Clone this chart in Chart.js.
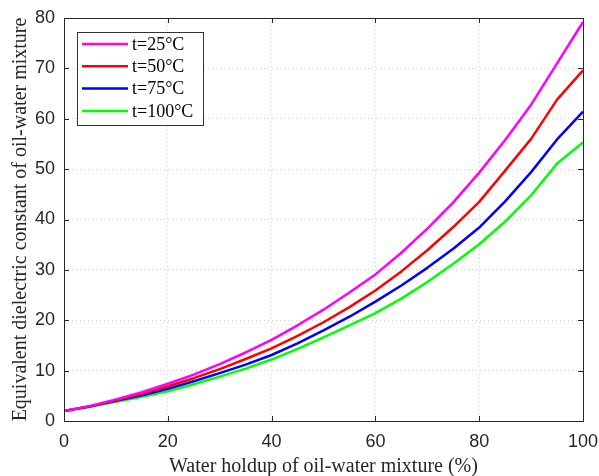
<!DOCTYPE html>
<html>
<head>
<meta charset="utf-8">
<script src="https://cdn.jsdelivr.net/npm/chart.js@4.4.1/dist/chart.umd.min.js"></script>
<style>
  body { margin: 0; background: #fff; }
  #wrap { width: 599px; height: 476px; }
</style>
</head>
<body>
<div id="wrap"><canvas id="line-chart" width="599" height="476"></canvas></div>
<script>
// water holdup (%) and dielectric constant per temperature
var holdup = [0, 5, 10, 15, 20, 25, 30, 35, 40, 45, 50, 55, 60, 65, 70, 75, 80, 85, 90, 95, 100];
var t25  = [2.0, 3.0, 4.3, 5.7, 7.4, 9.2, 11.3, 13.6, 16.1, 19.0, 22.1, 25.5, 29.1, 33.4, 38.2, 43.4, 49.3, 55.8, 62.8, 71.0, 79.2];
var t50  = [2.0, 2.9, 4.1, 5.4, 6.9, 8.5, 10.3, 12.3, 14.4, 16.9, 19.6, 22.6, 25.9, 29.7, 33.9, 38.5, 43.5, 49.7, 56.0, 63.8, 69.6];
var t75  = [2.0, 2.9, 4.0, 5.1, 6.4, 7.9, 9.5, 11.2, 13.1, 15.4, 18.0, 20.7, 23.7, 26.9, 30.4, 34.2, 38.4, 43.6, 49.4, 55.9, 61.4];
var t100 = [2.0, 2.8, 3.8, 4.8, 5.9, 7.3, 8.8, 10.4, 12.2, 14.3, 16.6, 19.0, 21.4, 24.3, 27.6, 31.2, 35.1, 39.6, 44.8, 51.1, 55.3];
var xTicks = [0, 20, 40, 60, 80, 100];

var labels = ['t=25°C', 't=50°C', 't=75°C', 't=100°C'];
var colors = ['#ff00ff', '#ff0000', '#0000ff', '#00ff00'];
var series = [t25, t50, t75, t100];

var serif = '"Liberation Serif", "Times New Roman", serif';
var sans = '"Liberation Sans", Arial, sans-serif';
var ink = '#262626';

function pts(ys) {
  return holdup.map(function(x, i) { return { x: x, y: ys[i] }; });
}

var datasets = series.map(function(s, i) {
  return {
    label: labels[i],
    data: pts(s),
    borderColor: colors[i],
    borderWidth: 2.5,
    borderJoinStyle: 'round',
    pointRadius: 0,
    fill: false,
    tension: 0
  };
});

// box round the plot, inward ticks, legend in the top-left corner
var frame = {
  id: 'frame',
  afterDraw: function(chart) {
    var ctx = chart.ctx, a = chart.chartArea;
    var xs = chart.scales.x, ys = chart.scales.y;
    ctx.save();
    ctx.strokeStyle = ink;
    ctx.lineWidth = 1;
    ctx.strokeRect(a.left + 0.5, a.top + 0.5, a.right - a.left, a.bottom - a.top);
    ctx.beginPath();
    xs.ticks.forEach(function(t) {
      var px = Math.round(xs.getPixelForValue(t.value)) + 0.5;
      ctx.moveTo(px, a.bottom); ctx.lineTo(px, a.bottom - 5);
      ctx.moveTo(px, a.top); ctx.lineTo(px, a.top + 5);
    });
    ys.ticks.forEach(function(t) {
      var py = Math.round(ys.getPixelForValue(t.value)) + 0.5;
      ctx.moveTo(a.left, py); ctx.lineTo(a.left + 5, py);
      ctx.moveTo(a.right, py); ctx.lineTo(a.right - 5, py);
    });
    ctx.stroke();

    var bx = a.left + 13, by = a.top + 14, bw = 126, bh = 93;
    ctx.fillStyle = '#fff';
    ctx.fillRect(bx, by, bw, bh);
    ctx.strokeStyle = '#333';
    ctx.strokeRect(bx + 0.5, by + 0.5, bw, bh);
    ctx.font = '18px ' + serif;
    ctx.textBaseline = 'middle';
    chart.data.datasets.forEach(function(d, i) {
      var ry = by + 12 + i * 22.3;
      ctx.strokeStyle = d.borderColor;
      ctx.lineWidth = 2.5;
      ctx.beginPath();
      ctx.moveTo(bx + 5, ry); ctx.lineTo(bx + 51, ry);
      ctx.stroke();
      ctx.fillStyle = '#000';
      ctx.fillText(d.label, bx + 55, ry + 1);
    });
    ctx.restore();
  }
};

new Chart(document.getElementById('line-chart'), {
  type: 'line',
  data: { datasets: datasets },
  options: {
    responsive: false,
    animation: false,
    layout: { padding: { top: 18, right: 16, left: 0, bottom: 0 } },
    plugins: { legend: { display: false }, tooltip: { enabled: false } },
    scales: {
      x: {
        type: 'linear',
        min: 0, max: 100,
        afterBuildTicks: function(s) { s.ticks = xTicks.map(function(v) { return { value: v }; }); },
        afterFit: function(s) { s.height = 55; s.paddingLeft = 0; s.paddingRight = 0; },
        grid: { color: '#d0d0d0', drawTicks: false },
        border: { display: false, dash: [1, 3] },
        ticks: { color: ink, font: { family: sans, size: 18 }, padding: 10, maxRotation: 0 },
        title: { display: true, text: 'Water holdup of oil-water mixture (%)', color: ink,
                 font: { family: serif, size: 20 }, padding: { top: 0, bottom: -3 } }
      },
      y: {
        min: 0, max: 80,
        ticks: { stepSize: 10, color: ink, font: { family: sans, size: 18 }, padding: 9 },
        afterFit: function(s) { s.width = 64; s.paddingTop = 0; s.paddingBottom = 0; },
        grid: { color: '#d0d0d0', drawTicks: false },
        border: { display: false, dash: [1, 3] },
        title: { display: true, text: 'Equivalent dielectric constant of oil-water mixture', color: ink,
                 font: { family: serif, size: 20 }, padding: { top: 9, bottom: 0 } }
      }
    }
  },
  plugins: [frame]
});
</script>
</body>
</html>
